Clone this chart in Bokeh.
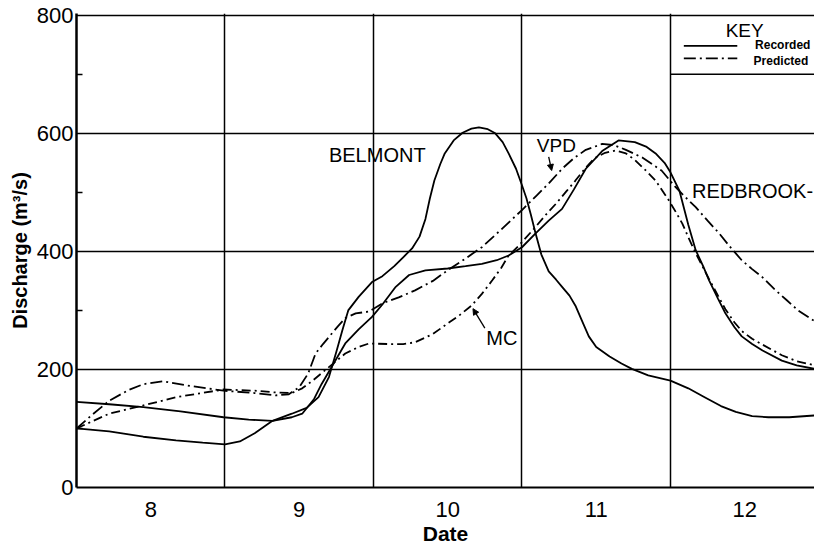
from bokeh.plotting import figure
from bokeh.models import FixedTicker, Range1d, Arrow, NormalHead
from bokeh.embed import file_html
from bokeh.resources import INLINE
from bokeh.core.properties import value

# ---------------- data ----------------
belmont_x = [7.5, 7.72, 7.95, 8.17, 8.35, 8.5, 8.6, 8.7, 8.82, 8.95, 9.05, 9.13, 9.2, 9.25,
             9.29, 9.33, 9.4, 9.49, 9.56, 9.64, 9.7, 9.76, 9.81, 9.85, 9.88, 9.91, 9.95, 9.98,
             10.04, 10.1, 10.16, 10.21, 10.27, 10.32, 10.37, 10.41, 10.46, 10.5, 10.53, 10.56,
             10.59, 10.63, 10.68, 10.73, 10.77, 10.82, 10.86, 10.9, 10.95, 11.0, 11.09, 11.17,
             11.24, 11.35, 11.5, 11.62, 11.73, 11.84, 11.94, 12.05, 12.16, 12.3, 12.47]
belmont_q = [100, 95, 86, 80, 76, 73, 78, 92, 113, 125, 135, 153, 187, 230,
             266, 300, 323, 348, 358, 375, 390, 405, 425, 455, 490, 520, 548, 566,
             588, 601, 608, 610, 607, 600, 585, 566, 540, 512, 490, 462,
             432, 395, 366, 352, 340, 325, 308, 285, 256, 238, 222, 210,
             201, 190, 181, 168, 153, 138, 128, 121, 119, 119, 122]

redbrook_x = [7.5, 7.72, 7.95, 8.2, 8.49, 8.66, 8.82, 8.95, 9.02, 9.1, 9.15, 9.22, 9.31, 9.4,
              9.49, 9.56, 9.65, 9.74, 9.85, 10.0, 10.12, 10.23, 10.33, 10.41, 10.5, 10.59,
              10.68, 10.77, 10.85, 10.93, 11.04, 11.15, 11.26, 11.34, 11.4, 11.46, 11.5, 11.56,
              11.62, 11.67, 11.72, 11.76, 11.82, 11.87, 11.93, 11.98, 12.05, 12.12, 12.25,
              12.35, 12.47]
redbrook_q = [145, 141, 136, 129, 119, 115, 113, 119, 125, 150, 175, 205, 244, 268,
              289, 310, 340, 360, 368, 371, 375, 379, 385, 393, 407, 430,
              452, 472, 505, 540, 570, 588, 585, 577, 566, 550, 534, 503,
              445, 402, 375, 351, 320, 295, 272, 256, 243, 232, 215,
              207, 201]

mc_x = [7.5, 7.72, 7.95, 8.17, 8.49, 8.7, 8.84, 8.95, 9.02, 9.09, 9.2, 9.31, 9.4, 9.47, 9.6,
        9.7, 9.78, 9.9, 10.0, 10.08, 10.16, 10.23, 10.3, 10.36, 10.41, 10.48, 10.59, 10.66,
        10.73, 10.8, 10.86, 10.93, 10.99, 11.06, 11.13, 11.2, 11.26, 11.33, 11.4, 11.49,
        11.54, 11.58, 11.62, 11.67, 11.76, 11.82, 11.87, 11.93, 11.98, 12.05, 12.12, 12.25,
        12.35, 12.47]
mc_q = [100, 125, 139, 153, 166, 164, 161, 160, 168, 181, 204, 227, 238, 244, 243,
        243, 246, 260, 278, 292, 308, 328, 351, 372, 393, 410, 441, 462,
        481, 502, 520, 542, 558, 567, 571, 566, 555, 538, 520, 486,
        465, 447, 424, 397, 353, 325, 302, 280, 265, 252, 242, 224,
        214, 207]

vpd_x = [7.5, 7.6, 7.72, 7.85, 7.95, 8.08, 8.24, 8.49, 8.7, 8.84, 8.93, 9.0, 9.06, 9.11, 9.16,
         9.2, 9.26, 9.31, 9.38, 9.47, 9.56, 9.67, 9.78, 9.9, 10.0, 10.12, 10.23, 10.36, 10.5,
         10.6, 10.68, 10.77, 10.85, 10.93, 11.04, 11.12, 11.2, 11.31, 11.44, 11.53, 11.6,
         11.67, 11.75, 11.83, 11.9, 11.98, 12.05, 12.12, 12.2, 12.28, 12.36, 12.47]
vpd_q = [100, 122, 147, 165, 175, 180, 173, 164, 160, 156, 158, 170, 193, 227, 243,
         255, 273, 287, 295, 298, 312, 322, 334, 350, 368, 388, 407, 437, 470,
         495, 515, 540, 558, 572, 582, 580, 572, 559, 537, 510, 492,
         475, 452, 430, 408, 385, 370, 356, 336, 318, 300, 282]

date_ticks = [8, 9, 10, 11, 12]
date_grid = [8.5, 9.5, 10.5, 11.5]
q_ticks = [0, 200, 400, 600, 800]
q_minor = [100, 300, 500, 700]

FONT = "Liberation Sans"

p = figure(frame_width=738, frame_height=474,
           x_range=Range1d(7.5, 12.47), y_range=Range1d(0, 803),
           output_backend="svg", toolbar_location=None,
           min_border_left=76, min_border_top=13, min_border_right=0)
p.outline_line_color = None
p.background_fill_color = "white"
p.border_fill_color = "white"

# x axis
xa = p.xaxis[0]
xa.ticker = FixedTicker(ticks=date_ticks)
xa.major_tick_line_color = None
xa.minor_tick_line_color = None
xa.axis_line_width = 2
xa.axis_line_color = "black"
xa.major_label_text_font = FONT
xa.major_label_text_font_size = "22px"
xa.major_label_text_color = "black"
xa.major_label_standoff = 8
xa.axis_label = "Date"
xa.axis_label_text_font = FONT
xa.axis_label_text_font_style = "bold"
xa.axis_label_text_font_size = "21px"
xa.axis_label_text_color = "black"
xa.axis_label_standoff = 2

# y axis
ya = p.yaxis[0]
ya.ticker = FixedTicker(ticks=q_ticks, minor_ticks=q_minor)
ya.major_tick_in = 0
ya.major_tick_out = 0
ya.minor_tick_in = 6
ya.minor_tick_out = 0
ya.minor_tick_line_width = 1.5
ya.minor_tick_line_color = "black"
ya.axis_line_width = 2.5
ya.axis_line_color = "black"
ya.major_label_text_font = FONT
ya.major_label_text_font_size = "22px"
ya.major_label_text_color = "black"
ya.major_label_standoff = 3
ya.axis_label = "Discharge (m³/s)"
ya.axis_label_text_font = FONT
ya.axis_label_text_font_style = "bold"
ya.axis_label_text_font_size = "20px"
ya.axis_label_text_color = "black"
ya.axis_label_standoff = 3

# grid
p.xgrid.ticker = FixedTicker(ticks=date_grid)
p.ygrid.ticker = FixedTicker(ticks=q_ticks)
for g in (p.xgrid[0], p.ygrid[0]):
    g.grid_line_color = "black"
    g.grid_line_width = 1.5
    g.grid_line_alpha = 1.0

# key box bottom line
p.segment(x0=[11.5], y0=[700], x1=[12.47], y1=[700], line_color="black", line_width=1.5)

# curves
p.line(belmont_x, belmont_q, line_color="black", line_width=1.8)
p.line(redbrook_x, redbrook_q, line_color="black", line_width=1.8)
p.line(mc_x, mc_q, line_color="black", line_width=1.8, line_dash="9 4 2 4")
p.line(vpd_x, vpd_q, line_color="black", line_width=1.8, line_dash="12 4 2 4")

# labels
def txt(x, y, s, size, align="left", style="normal"):
    p.text(x=[x], y=[y], text=[s], text_font=value(FONT), text_font_size=value(size),
           text_align=align, text_baseline="middle", text_color="black",
           text_font_style=style)

txt(9.2, 563, "BELMONT", "20px")
txt(11.645, 503, "REDBROOK-", "20px")
txt(10.6, 579, "VPD", "19px")
txt(10.26, 253, "MC", "20px")

p.add_layout(Arrow(x_start=10.68, y_start=560, x_end=10.70, y_end=537,
                   line_width=1.3, line_color="black",
                   end=NormalHead(size=6, fill_color="black", line_color="black")))
p.add_layout(Arrow(x_start=10.25, y_start=270, x_end=10.17, y_end=303,
                   line_width=1.3, line_color="black",
                   end=NormalHead(size=6, fill_color="black", line_color="black")))

# key
txt(12.0, 775, "KEY", "19px", align="center")
p.line([11.59, 11.95], [748, 748], line_color="black", line_width=1.8)
p.line([11.59, 11.95], [727, 727], line_color="black", line_width=1.8, line_dash="12 4 2 4")
txt(12.07, 750, "Recorded", "12px", style="bold")
txt(12.06, 723, "Predicted", "12px", style="bold")

open("out.html", "w").write(file_html(p, INLINE))
